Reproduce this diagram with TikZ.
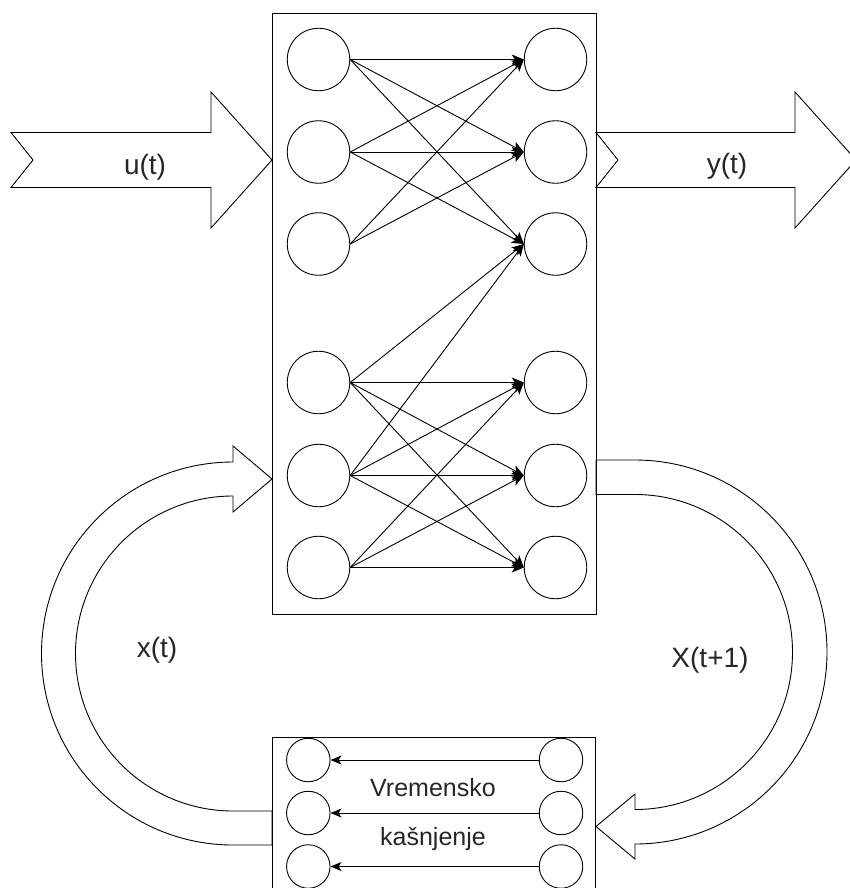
\documentclass[tikz,border=0pt]{standalone}
\usepackage{fontspec}
\setmainfont{Liberation Sans}
\usetikzlibrary{arrows.meta}
\begin{document}
\begin{tikzpicture}[x=1pt,y=1pt,
  neuron/.style={circle,draw,line width=0.9pt,minimum size=62.5pt,inner sep=0pt},
  delayneuron/.style={circle,draw,line width=0.9pt,minimum size=43.5pt,inner sep=0pt},
  link/.style={line width=0.9pt,-{Stealth[length=12pt,width=10pt,inset=3pt]}},
  layer/.style={draw,line width=1.2pt,inner sep=0pt,anchor=north west},
  bigarrow/.style={draw,line width=0.9pt,line join=miter},
  lbl/.style={font=\fontsize{28}{32}\selectfont,text=black!85,anchor=base,inner sep=0pt},
  dlbl/.style={font=\fontsize{25}{30}\selectfont,text=black!85,anchor=base,inner sep=0pt}]
\useasboundingbox (0,0) rectangle (850,-888);
\clip (0,0) rectangle (850,-888);

% input arrow u(t)
\draw[bigarrow] (11,-132.5) -- (211,-132.5) -- (211,-92) -- (272,-160)
  -- (211,-228) -- (211,-187.5) -- (11,-187.5) -- (33,-160) -- cycle;
% output arrow y(t)
\draw[bigarrow] (596,-132.5) -- (795,-132.5) -- (795,-92) -- (856,-160)
  -- (795,-228) -- (795,-187.5) -- (596,-187.5) -- (618,-160) -- cycle;

% feedback arrow x(t): delay block -> network
\draw[bigarrow] (272,-845) -- (233,-845) arc[start angle=270,end angle=90,radius=191.5]
  -- (233,-446) -- (272,-479) -- (233,-512) -- (233,-496)
  arc[start angle=90,end angle=270,radius=157.5] -- (272,-811) -- cycle;
% state arrow X(t+1): network -> delay block
\draw[bigarrow] (596,-460) -- (635,-460) arc[start angle=90,end angle=-90,radius=192]
  -- (635,-859) -- (596,-826.5) -- (635,-794) -- (635,-809.5)
  arc[start angle=-90,end angle=90,radius=157.5] -- (596,-494.5) -- cycle;

% network block
\node[layer,minimum width=324pt,minimum height=601pt] (net) at (272,-13) {};
% delay block
\node[layer,minimum width=323pt,minimum height=170pt] (delay) at (272,-737) {};

% neurons of the network
\foreach \n/\y in {1/59.5,2/152,3/244,4/382.5,5/475.5,6/567.5}{
  \node[neuron] (l\n) at (318.5,-\y) {};
  \node[neuron] (r\n) at (555.5,-\y) {};
}

% weighted connections
\foreach \a/\b in {1/1,1/2,1/3,2/1,2/2,2/3,3/1,3/2,
                   4/3,4/4,4/5,4/6,5/3,5/4,5/5,5/6,6/4,6/5,6/6}{
  \draw[link] (l\a.east) -- (r\b.west);
}

% delay units
\foreach \n/\y in {1/760,2/813,3/866.5}{
  \node[delayneuron] (dl\n) at (308.3,-\y) {};
  \node[delayneuron] (dr\n) at (561,-\y) {};
  \draw[link,-{Stealth[length=11pt,width=9pt,inset=3pt]}] (dr\n.west) -- (dl\n.east);
}

% labels
\node[lbl] (ulabel) at (145,-174) {u(t)};
\node[lbl] (ylabel) at (727,-173) {y(t)};
\node[lbl] (xlabel) at (157,-657) {x(t)};
\node[lbl] (nextlabel) at (710,-667) {X(t+1)};
\node[dlbl] (delaytop) at (433,-796) {Vremensko};
\node[dlbl] (delaybottom) at (433,-845) {kašnjenje};
\end{tikzpicture}
\end{document}
